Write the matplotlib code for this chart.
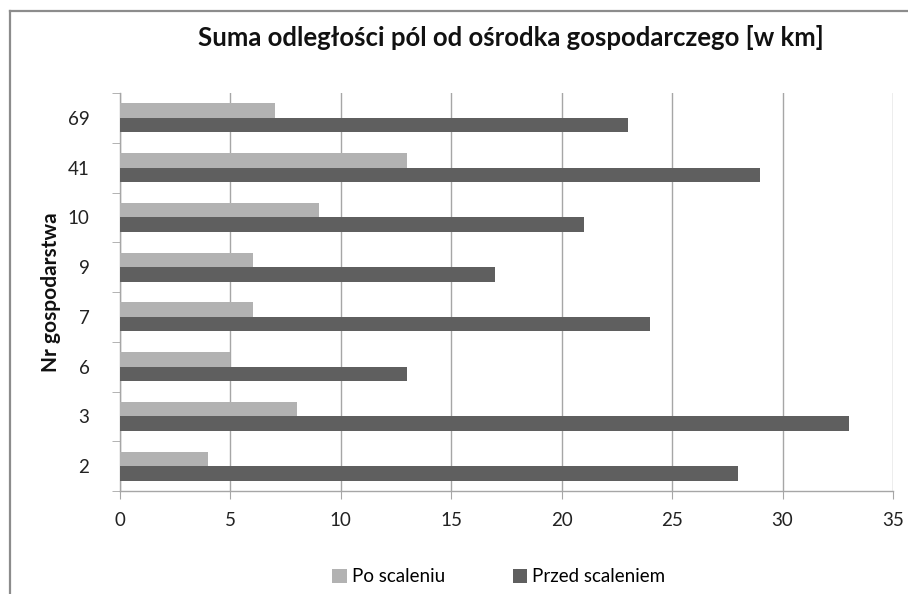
import matplotlib
matplotlib.use("Agg")
import matplotlib.pyplot as plt
import numpy as np
from matplotlib.patches import Patch
from matplotlib.lines import Line2D

categories = ["2", "3", "6", "7", "9", "10", "41", "69"]
po_scaleniu = [4, 8, 5, 6, 6, 9, 13, 7]
przed_scaleniem = [28, 33, 13, 24, 17, 21, 29, 23]
x_ticks = [0, 5, 10, 15, 20, 25, 30, 35]

plt.rcParams['font.family'] = ['Lato', 'DejaVu Sans']

W, H = 908, 594
fig = plt.figure(figsize=(W / 100, H / 100), dpi=100)
fig.patch.set_facecolor("white")

# chart frame (cropped at right and bottom)
fig.add_artist(Line2D([10 / W, 1.0], [1 - 11 / H, 1 - 11 / H], color="#8c8c8c", lw=1.6, transform=fig.transFigure))
fig.add_artist(Line2D([10 / W, 10 / W], [0, 1 - 11 / H], color="#8c8c8c", lw=1.6, transform=fig.transFigure))

ax = fig.add_axes([120 / W, 1 - 491 / H, (893 - 120) / W, (491 - 93) / H])

light = "#b2b2b2"
dark = "#5f5f5f"
y = np.arange(len(categories))
h = 0.29
ax.barh(y + h / 2, po_scaleniu, height=h, color=light, label="Po scaleniu", zorder=3)
ax.barh(y - h / 2, przed_scaleniem, height=h, color=dark, label="Przed scaleniem", zorder=3)

ax.set_xlim(0, 35)
ax.set_ylim(-0.5, len(categories) - 0.5)
ax.set_xticks(x_ticks)
ax.set_xticklabels([str(v) for v in x_ticks], fontsize=13.5, color="#222222")
ax.set_yticks(y)
ax.set_yticklabels(categories, fontsize=13.5, color="#222222")
ax.set_yticks(np.arange(-0.5, len(categories), 1.0), minor=True)

ax.grid(axis="x", color="#a6a6a6", lw=1, zorder=0)
for s in ["top", "right"]:
    ax.spines[s].set_visible(False)
for s in ["left", "bottom"]:
    ax.spines[s].set_color("#a6a6a6")
    ax.spines[s].set_linewidth(1)

ax.tick_params(axis="y", which="major", length=0, pad=22)
ax.tick_params(axis="y", which="minor", length=6, color="#a6a6a6", direction="out")
ax.tick_params(axis="x", which="major", length=6, color="#a6a6a6", direction="out", pad=9)

ax.set_ylabel("Nr gospodarstwa", fontsize=15, fontweight="bold", color="#111111", labelpad=5)

fig.text(511 / W, 1 - 37 / H, "Suma odległości pól od ośrodka gospodarczego [w km]",
         fontsize=18.5, fontweight="bold", ha="center", va="center", color="#111111")

handles = [Patch(facecolor=light, edgecolor="none"), Patch(facecolor=dark, edgecolor="none")]
fig.legend(handles, ["Po scaleniu", "Przed scaleniem"], loc="center",
           bbox_to_anchor=(499 / W, 1 - 577 / H), ncol=2, frameon=False, fontsize=13.5,
           handlelength=0.75, handleheight=0.75, handletextpad=0.3, columnspacing=3.6)

fig.savefig("out.png", dpi=100, facecolor="white")
